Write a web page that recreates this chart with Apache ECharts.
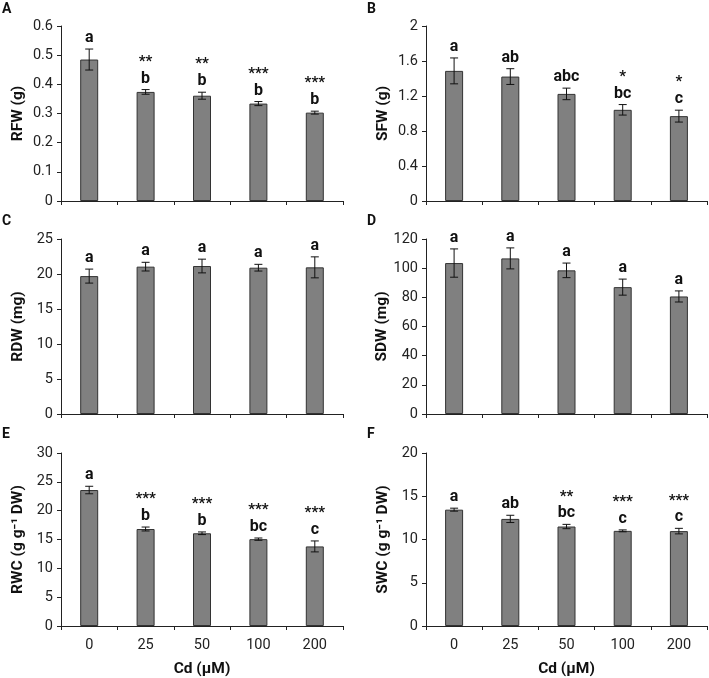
<!DOCTYPE html>
<html><head><meta charset="utf-8">
<script src="https://cdn.jsdelivr.net/npm/echarts@6/dist/echarts.min.js"></script>
<style>html,body{margin:0;padding:0;background:#fff}#c{width:709px;height:678px}</style>
</head><body><div id="c"></div>
<script>
// ---- data ----
const categories = ['0', '25', '50', '100', '200'];

const rfwValues = [0.485, 0.374, 0.361, 0.334, 0.303];
const rfwErrors = [0.036, 0.008, 0.012, 0.007, 0.005];
const rfwLetters = ['a', 'b', 'b', 'b', 'b'];
const rfwStars = ['', '**', '**', '***', '***'];

const sfwValues = [1.487, 1.422, 1.224, 1.042, 0.970];
const sfwErrors = [0.148, 0.090, 0.066, 0.060, 0.068];
const sfwLetters = ['a', 'ab', 'abc', 'bc', 'c'];
const sfwStars = ['', '', '', '*', '*'];

const rdwValues = [19.7, 21.05, 21.14, 20.9, 20.95];
const rdwErrors = [1.0, 0.62, 0.98, 0.48, 1.5];
const rdwLetters = ['a', 'a', 'a', 'a', 'a'];
const rdwStars = ['', '', '', '', ''];

const sdwValues = [103.5, 106.7, 98.5, 87.0, 80.6];
const sdwErrors = [9.7, 7.2, 5.0, 5.5, 3.8];
const sdwLetters = ['a', 'a', 'a', 'a', 'a'];
const sdwStars = ['', '', '', '', ''];

const rwcValues = [23.58, 16.82, 16.08, 15.06, 13.8];
const rwcErrors = [0.65, 0.34, 0.23, 0.2, 0.95];
const rwcLetters = ['a', 'b', 'b', 'bc', 'c'];
const rwcStars = ['', '***', '***', '***', '***'];

const swcValues = [13.45, 12.38, 11.5, 11.0, 10.97];
const swcErrors = [0.17, 0.42, 0.25, 0.11, 0.32];
const swcLetters = ['a', 'ab', 'bc', 'c', 'c'];
const swcStars = ['', '', '**', '***', '***'];

const yTicksA = [0, 0.6, 0.1];
const yTicksB = [0, 2, 0.4];
const yTicksC = [0, 25, 5];
const yTicksD = [0, 120, 20];
const yTicksE = [0, 30, 5];
const yTicksF = [0, 20, 5];

const xTitle = 'Cd (μM)';

// ---- layout ----
const FONT = 'Roboto, "Noto Sans", Arial, sans-serif';
const panels = [
  {tag: 'A', yname: 'RFW (g)', v: rfwValues, e: rfwErrors, l: rfwLetters, s: rfwStars, t: yTicksA, g: {left: 61, top: 26, width: 282, height: 175}, lx: 2, ly: 2},
  {tag: 'B', yname: 'SFW (g)', v: sfwValues, e: sfwErrors, l: sfwLetters, s: sfwStars, t: yTicksB, g: {left: 426, top: 26, width: 281, height: 175}, lx: 367, ly: 2},
  {tag: 'C', yname: 'RDW (mg)', v: rdwValues, e: rdwErrors, l: rdwLetters, s: rdwStars, t: yTicksC, g: {left: 61, top: 239, width: 282, height: 175}, lx: 2, ly: 214},
  {tag: 'D', yname: 'SDW (mg)', v: sdwValues, e: sdwErrors, l: sdwLetters, s: sdwStars, t: yTicksD, g: {left: 426, top: 239, width: 281, height: 175}, lx: 367, ly: 214},
  {tag: 'E', yname: 'RWC (g g⁻¹ DW)', v: rwcValues, e: rwcErrors, l: rwcLetters, s: rwcStars, t: yTicksE, g: {left: 61, top: 453, width: 282, height: 176}, lx: 2, ly: 427, xl: true},
  {tag: 'F', yname: 'SWC (g g⁻¹ DW)', v: swcValues, e: swcErrors, l: swcLetters, s: swcStars, t: yTicksF, g: {left: 426, top: 453, width: 281, height: 175}, lx: 367, ly: 427, xl: true}
];

const grid = [], xAxis = [], yAxis = [], series = [], graphic = [];
panels.forEach((p, i) => {
  grid.push(p.g);
  xAxis.push({
    type: 'category', gridIndex: i, data: categories,
    axisLine: {lineStyle: {color: '#222', width: 1}},
    axisTick: {show: true, length: 4, alignWithLabel: false, lineStyle: {color: '#222'}},
    axisLabel: {show: !!p.xl, color: '#222', fontSize: 14.5, fontFamily: FONT, margin: 12},
    name: p.xl ? xTitle : '', nameLocation: 'middle', nameGap: 35,
    nameTextStyle: {fontSize: 15.5, fontWeight: 'bold', color: '#111', fontFamily: FONT}
  });
  yAxis.push({
    type: 'value', gridIndex: i, min: p.t[0], max: p.t[1], interval: p.t[2],
    axisLine: {show: true, lineStyle: {color: '#222', width: 1}},
    axisTick: {show: true, length: 4, lineStyle: {color: '#222'}},
    splitLine: {show: false},
    axisLabel: {color: '#222', fontSize: 14.5, fontFamily: FONT, margin: 8},
    name: p.yname, nameLocation: 'middle', nameGap: 35,
    nameTextStyle: {fontSize: 15.5, fontWeight: 'bold', color: '#111', fontFamily: FONT}
  });
  series.push({
    type: 'bar', xAxisIndex: i, yAxisIndex: i, barWidth: 18,
    data: p.v,
    itemStyle: {color: '#808080', borderColor: '#333', borderWidth: 1},
    silent: true
  });
  series.push({
    type: 'custom', xAxisIndex: i, yAxisIndex: i,
    data: p.v.map((v, k) => [k, v, p.e[k]]),
    z: 5, silent: true,
    renderItem: (params, api) => {
      const k = api.value(0), v = api.value(1), e = api.value(2);
      const top = api.coord([k, v + e]);
      const bot = api.coord([k, v - e]);
      const hw = 4;
      const ln = (x1, y1, x2, y2) => ({type: 'line', shape: {x1, y1, x2, y2}, style: {stroke: '#111', lineWidth: 1}});
      const children = [
        ln(top[0], top[1], bot[0], bot[1]),
        ln(top[0] - hw, top[1], top[0] + hw, top[1]),
        ln(bot[0] - hw, bot[1], bot[0] + hw, bot[1]),
        {type: 'text', style: {text: p.l[params.dataIndex], x: top[0], y: top[1] - 3, align: 'center', verticalAlign: 'bottom', font: 'bold 16px ' + FONT, fill: '#111'}},
        {type: 'text', style: {text: p.s[params.dataIndex], x: top[0], y: top[1] - 20, align: 'center', verticalAlign: 'bottom', font: 'bold 15px ' + FONT, fill: '#111'}}
      ];
      return {type: 'group', children};
    }
  });
  graphic.push({type: 'text', left: p.lx, top: p.ly, style: {text: p.tag, font: 'bold 14px ' + FONT, fill: '#111'}});
});

const chart = echarts.init(document.getElementById('c'), null, {renderer: 'canvas'});
chart.setOption({animation: false, backgroundColor: '#fff', grid, xAxis, yAxis, series, graphic});
</script></body></html>
